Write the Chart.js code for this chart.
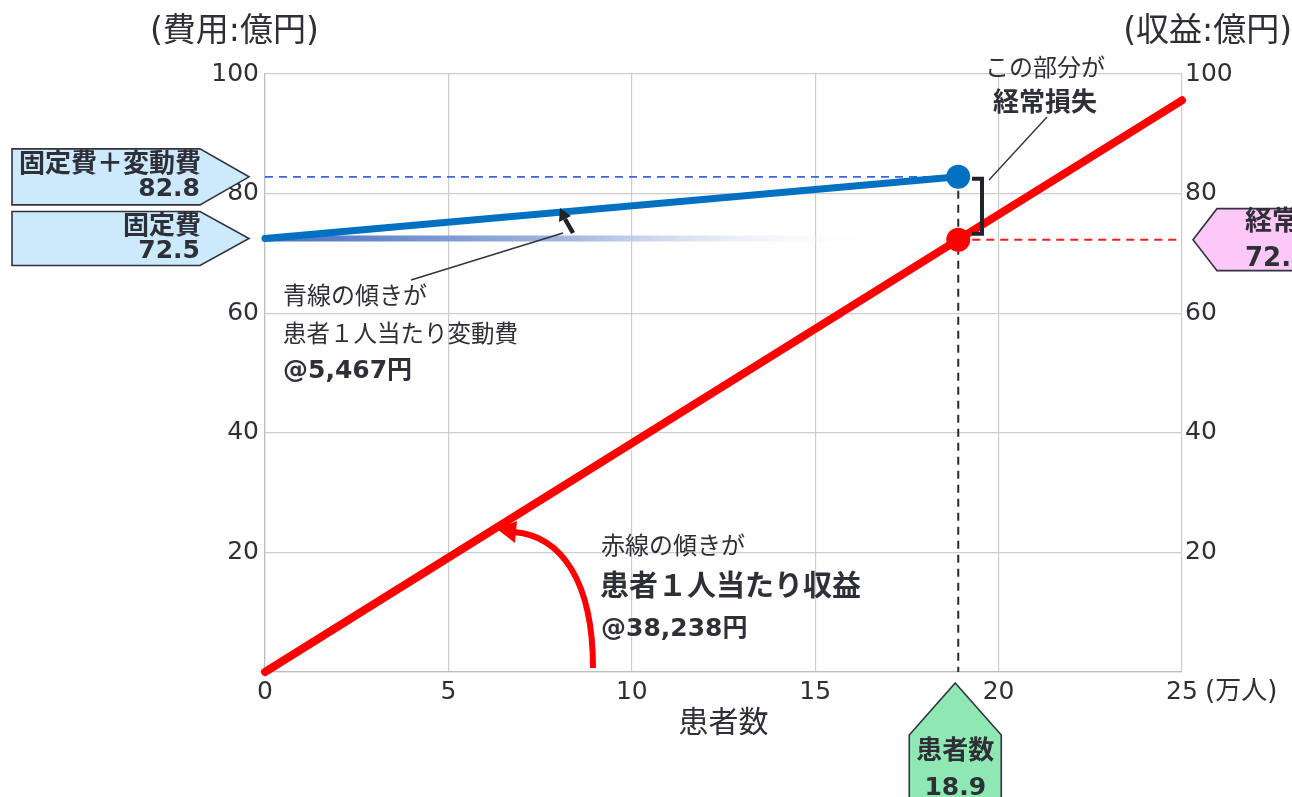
<!DOCTYPE html>
<html lang="ja">
<head>
<meta charset="utf-8">
<title>損益分岐 患者数と費用・収益</title>
<script src="https://cdn.jsdelivr.net/npm/chart.js@4.4.1/dist/chart.umd.min.js"></script>
<style>
  html, body { margin: 0; padding: 0; background: #ffffff; }
  #wrap { width: 1292px; height: 797px; position: relative; overflow: hidden; }
  canvas { display: block; }
</style>
</head>
<body>
<div id="wrap"><canvas id="chart" width="1292" height="797"></canvas></div>
<script>
// ---- values (x: 患者数 万人, y: 億円) ----
const xTickValues = [0, 5, 10, 15, 20, 25];
const yTickValues = [20, 40, 60, 80, 100];

const costX = [0, 18.9];            // 固定費 + 変動費
const costY = [72.5, 82.8];

const revenueX = [0, 18.9, 25];     // 経常収益
const revenueY = [0, 72.3, 95.6];

const fixedGuideX = [0, 17];        // 固定費の水準を示すぼかし線
const fixedGuideY = [72.5, 72.5];

const totalCostGuideX = [0, 18.9];
const totalCostGuideY = [82.8, 82.8];

const revenueGuideX = [18.9, 25];
const revenueGuideY = [72.3, 72.3];

const volumeGuideX = [18.9, 18.9];
const volumeGuideY = [82.8, 0];

const costLabels = ['固定費＋変動費', '82.8', '固定費', '72.5'];
const revenueLabels = ['経常収益', '72.3'];
const volumeLabels = ['患者数', '18.9'];

const toPoints = (xs, ys) => xs.map((x, i) => ({ x, y: ys[i] }));

const FONT = "'DejaVu Sans', 'Noto Sans CJK JP', sans-serif";
const TEXT = '#2f2f37';
const GRID = '#cccccc';

Chart.defaults.font.family = FONT;
Chart.defaults.color = TEXT;

// ---- annotation drawing ----
function font(size, bold) { return (bold ? 'bold ' : '') + size + 'px ' + FONT; }

function text(c, str, x, y, size, bold, align) {
  c.font = font(size, bold);
  c.fillStyle = TEXT;
  c.textAlign = align || 'left';
  c.textBaseline = 'middle';
  c.fillText(str, x, y);
}

function rightPointer(c, left, bodyRight, tipX, tipY, half, fill) {
  c.beginPath();
  c.moveTo(left, tipY - half);
  c.lineTo(bodyRight, tipY - half);
  c.lineTo(tipX, tipY);
  c.lineTo(bodyRight, tipY + half);
  c.lineTo(left, tipY + half);
  c.closePath();
  c.fillStyle = fill; c.fill();
  c.lineWidth = 1.6; c.strokeStyle = '#33333d'; c.stroke();
}

function leftPointer(c, tipX, tipY, shoulderX, right, half, fill) {
  c.beginPath();
  c.moveTo(tipX, tipY);
  c.lineTo(shoulderX, tipY - half);
  c.lineTo(right, tipY - half);
  c.lineTo(right, tipY + half);
  c.lineTo(shoulderX, tipY + half);
  c.closePath();
  c.fillStyle = fill; c.fill();
  c.lineWidth = 1.6; c.strokeStyle = '#33333d'; c.stroke();
}

function upPointer(c, tipX, tipY, shoulderY, half, bottom, fill) {
  c.beginPath();
  c.moveTo(tipX, tipY);
  c.lineTo(tipX + half, shoulderY);
  c.lineTo(tipX + half, bottom);
  c.lineTo(tipX - half, bottom);
  c.lineTo(tipX - half, shoulderY);
  c.closePath();
  c.fillStyle = fill; c.fill();
  c.lineWidth = 1.6; c.strokeStyle = '#33333d'; c.stroke();
}

const annotations = {
  id: 'annotations',
  afterDraw(chart) {
    const c = chart.ctx;
    const xs = chart.scales.x, ys = chart.scales.y;
    c.save();

    // axis captions
    text(c, '(費用:億円)', 150, 32, 33, false, 'left');
    text(c, '(収益:億円)', 1292, 32, 33, false, 'right');
    text(c, '(万人)', 1205, 692, 26, false, 'left');
    text(c, '患者数', (chart.chartArea.left + chart.chartArea.right) / 2, 724, 30, false, 'center');

    // cost labels on the left
    const yTotal = ys.getPixelForValue(costY[1]);
    const yFixed = ys.getPixelForValue(costY[0]);
    rightPointer(c, 12, 200, 249, yTotal, 28, '#cdeafc');
    text(c, costLabels[0], 201, yTotal - 12, 26, true, 'right');
    text(c, costLabels[1], 200, yTotal + 13, 25, true, 'right');
    rightPointer(c, 12, 200, 249, yFixed, 27, '#cdeafc');
    text(c, costLabels[2], 201, yFixed - 11, 26, true, 'right');
    text(c, costLabels[3], 200, yFixed + 13, 25, true, 'right');

    // revenue label on the right
    const yRev = ys.getPixelForValue(revenueY[1]);
    leftPointer(c, 1193, yRev, 1217, 1340, 31, '#fcc8f8');
    text(c, revenueLabels[0], 1245, yRev - 17, 27, true, 'left');
    text(c, revenueLabels[1], 1245, yRev + 20, 26, true, 'left');

    // patient count label under the axis
    const xVol = xs.getPixelForValue(costX[1]);
    upPointer(c, xVol - 3, 683, 735, 46, 820, '#8fe8b3');
    text(c, volumeLabels[0], xVol - 3, 752, 26, true, 'center');
    text(c, volumeLabels[1], xVol - 3, 788, 25, true, 'center');

    // loss bracket and its note
    const yTop = ys.getPixelForValue(costY[1]);
    const yBot = ys.getPixelForValue(revenueY[1]);
    c.strokeStyle = '#20222c'; c.lineWidth = 4; c.lineJoin = 'miter';
    c.beginPath();
    c.moveTo(972, yTop + 2); c.lineTo(982, yTop + 2);
    c.lineTo(982, yBot - 6); c.lineTo(972, yBot - 6);
    c.stroke();
    c.lineWidth = 1.4; c.strokeStyle = '#33333d';
    c.beginPath(); c.moveTo(989, 180); c.lineTo(1047, 117); c.stroke();
    text(c, 'この部分が', 1045, 70, 24, false, 'center');
    text(c, '経常損失', 1045, 104, 26, true, 'center');

    // slope note for the cost line
    c.lineWidth = 1.4; c.strokeStyle = '#33333d';
    c.beginPath(); c.moveTo(411, 280); c.lineTo(563, 233); c.stroke();
    c.strokeStyle = '#20222c'; c.fillStyle = '#20222c'; c.lineWidth = 4.5; c.lineCap = 'butt';
    c.beginPath(); c.moveTo(573, 233); c.lineTo(565, 219); c.stroke();
    c.beginPath();
    c.moveTo(560, 208); c.lineTo(571, 216); c.lineTo(559, 222); c.closePath(); c.fill();
    text(c, '青線の傾きが', 283, 298, 24, false, 'left');
    text(c, '患者１人当たり変動費', 283, 336, 23.5, false, 'left');
    text(c, '@5,467円', 283, 371, 25, true, 'left');

    // slope note for the revenue line
    c.strokeStyle = '#ff0000'; c.fillStyle = '#ff0000'; c.lineWidth = 6;
    c.beginPath();
    c.moveTo(593, 668);
    c.bezierCurveTo(593, 582, 562, 536, 514, 532);
    c.stroke();
    c.beginPath();
    c.moveTo(497, 529); c.lineTo(517, 521); c.lineTo(515, 543); c.closePath(); c.fill();
    text(c, '赤線の傾きが', 601, 548, 24, false, 'left');
    text(c, '患者１人当たり収益', 600, 588, 29, true, 'left');
    text(c, '@38,238円', 601, 629, 25, true, 'left');

    c.restore();
  }
};

const dashed = (xs, ys, color, width, order) => ({
  data: toPoints(xs, ys), showLine: true, borderColor: color, borderWidth: width,
  borderDash: [8, 6], pointRadius: 0, order, clip: false
});

new Chart(document.getElementById('chart'), {
  type: 'scatter',
  data: {
    datasets: [
      { // 経常収益
        data: toPoints(revenueX, revenueY), showLine: true,
        borderColor: '#ff0000', borderWidth: 8, borderCapStyle: 'round',
        pointRadius: [0, 12, 0], pointBackgroundColor: '#ff0000', pointBorderWidth: 0,
        order: 1, clip: false
      },
      { // 固定費＋変動費
        data: toPoints(costX, costY), showLine: true,
        borderColor: '#0070c0', borderWidth: 7, borderCapStyle: 'round',
        pointRadius: [0, 12], pointBackgroundColor: '#0070c0', pointBorderWidth: 0,
        order: 2, clip: false
      },
      { // 固定費の水準
        data: toPoints(fixedGuideX, fixedGuideY), showLine: true, borderWidth: 6,
        pointRadius: 0, order: 3, clip: false,
        borderColor: (ctx) => {
          const ch = ctx.chart;
          if (!ch.chartArea) return '#4470c4';
          const x0 = ch.scales.x.getPixelForValue(fixedGuideX[0]);
          const x1 = ch.scales.x.getPixelForValue(fixedGuideX[1]);
          const g = ch.ctx.createLinearGradient(x0, 0, x1, 0);
          g.addColorStop(0, '#4470c4');
          g.addColorStop(0.5, '#a7b9e0');
          g.addColorStop(1, 'rgba(255,255,255,0)');
          return g;
        }
      },
      dashed(totalCostGuideX, totalCostGuideY, '#3d63e6', 1.6, 4),
      dashed(revenueGuideX, revenueGuideY, '#ff1a1a', 2, 4),
      dashed(volumeGuideX, volumeGuideY, '#2a2a30', 2, 5)
    ]
  },
  options: {
    responsive: false,
    animation: false,
    events: [],
    layout: { padding: { top: 74, left: 0, right: 0, bottom: 0 } },
    plugins: { legend: { display: false }, tooltip: { enabled: false } },
    scales: {
      x: {
        type: 'linear', min: 0, max: 25,
        afterBuildTicks: (s) => { s.ticks = xTickValues.map(v => ({ value: v })); },
        afterFit: (s) => { s.height = 125; },
        ticks: { font: { size: 25 }, color: TEXT, padding: 5, maxRotation: 0 },
        grid: { color: GRID, lineWidth: 1.2, drawTicks: false },
        border: { color: '#bdbdbd', width: 1.2 }
      },
      y: {
        position: 'left', min: 0, max: 100,
        afterBuildTicks: (s) => { s.ticks = [0].concat(yTickValues).map(v => ({ value: v })); },
        afterFit: (s) => { s.width = 265; },
        ticks: { font: { size: 25 }, color: TEXT, padding: 6, callback: (v) => v === 0 ? '' : v },
        grid: { color: GRID, lineWidth: 1.2, drawTicks: false },
        border: { color: '#bdbdbd', width: 1.2 }
      },
      y2: {
        position: 'right', min: 0, max: 100,
        afterBuildTicks: (s) => { s.ticks = [0].concat(yTickValues).map(v => ({ value: v })); },
        afterFit: (s) => { s.width = 110; },
        ticks: { font: { size: 25 }, color: TEXT, padding: 3, callback: (v) => v === 0 ? '' : v },
        grid: { display: false, drawTicks: false },
        border: { display: false }
      }
    }
  },
  plugins: [annotations]
});
</script>
</body>
</html>
